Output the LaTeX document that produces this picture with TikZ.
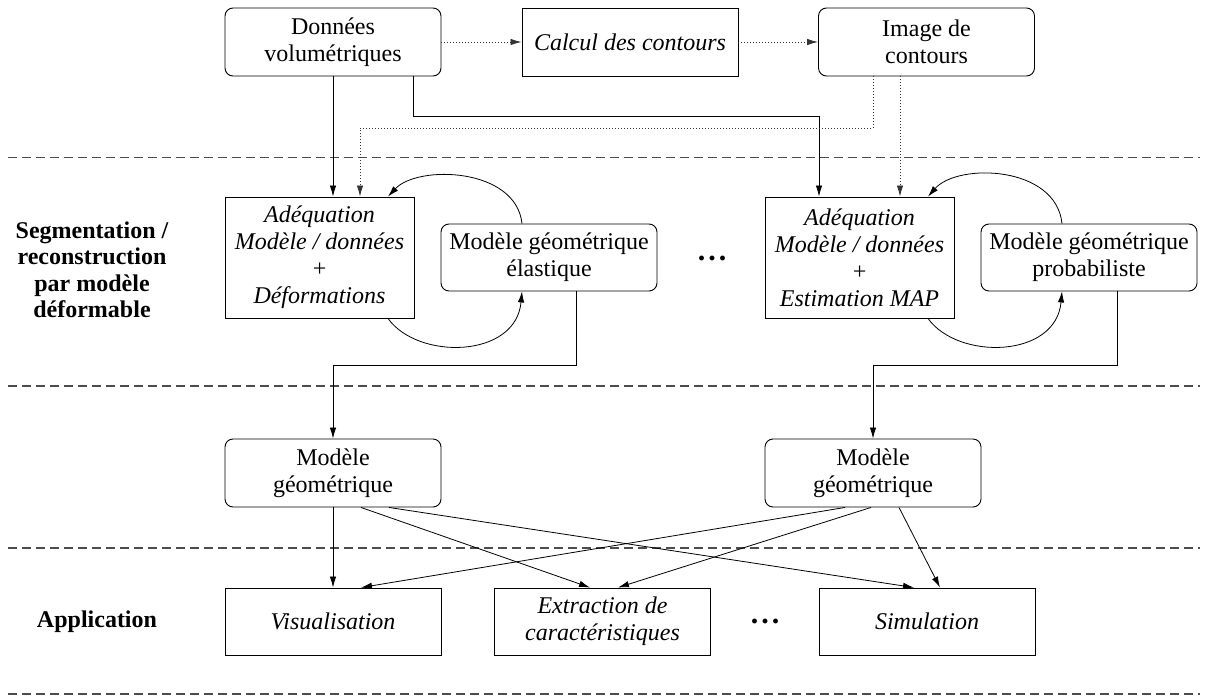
\documentclass[tikz,border=0pt]{standalone}
\usepackage{fontspec}
\setmainfont{Liberation Serif}
\usetikzlibrary{arrows.meta,calc}
\begin{document}
\begin{tikzpicture}[x=1pt,y=-1pt,
  every node/.style={font=\fontsize{24}{27}\selectfont, inner sep=0pt},
  rbox/.style={draw, rounded corners=8pt, minimum width=216pt, minimum height=68pt, align=center, line width=0.9pt},
  sbox/.style={draw, minimum width=216pt, minimum height=68pt, align=center, line width=0.9pt},
  abox/.style={draw, minimum width=189pt, minimum height=121pt, align=center, line width=0.9pt},
  ital/.style={font=\fontsize{24}{27}\selectfont\itshape},
  conn/.style={line width=0.8pt, -{Latex[length=11pt,width=6.5pt]}},
  dconn/.style={conn, draw=black!80, dash pattern=on 0.8pt off 2.2pt},
  sep/.style={line width=1.3pt, draw=black!70, dash pattern=on 9pt off 5pt},
  lab/.style={font=\fontsize{24}{26.5}\selectfont\bfseries, align=center},
  dotsn/.style={font=\fontsize{30}{30}\selectfont\bfseries}
]
\useasboundingbox (0,0) rectangle (1205,698);

% separators
\draw[sep] (8,157.5) -- (1200,157.5);
\draw[sep] (8,386) -- (1200,386);
\draw[sep] (8,548) -- (1200,548);
\draw[sep] (8,694) -- (1200,694);

% top row
\node[rbox] (D) at (333,42) {Données\\volumétriques};
\node[sbox, ital] (C) at (630,42) {Calcul des contours};
\node[rbox] (I) at (926.5,42) {Image de\\contours};

% middle row
\node[abox, ital] (A1) at (319.5,257.5) {Adéquation\\Modèle / données\\+\\Déformations};
\node[rbox, minimum height=67pt] (M1) at (549,257.5) {Modèle géométrique\\élastique};
\node[abox, ital] (A2) at (859.5,257.5) {Adéquation\\Modèle / données\\+\\Estimation MAP};
\node[rbox, minimum height=67pt] (M2) at (1089,257.5) {Modèle géométrique\\probabiliste};
\node[dotsn] (dots1) at (712,258) {.\hspace{3pt}.\hspace{3pt}.};

% model row
\node[rbox] (MG1) at (333,473) {Modèle\\géométrique};
\node[rbox] (MG2) at (873,473) {Modèle\\géométrique};

% application row
\node[sbox, minimum height=67pt, ital] (V) at (333,621.5) {Visualisation};
\node[sbox, minimum height=67pt, ital] (E) at (602.5,621.5) {Extraction de\\caractéristiques};
\node[sbox, minimum height=67pt, ital] (S) at (927,621.5) {Simulation};
\node[dotsn] (dots2) at (765,621) {.\hspace{3pt}.\hspace{3pt}.};

% labels
\node[lab] (L1) at (92,270) {Segmentation /\\reconstruction\\par modèle\\déformable};
\node[lab] (L2) at (97,622) {Application};

% top connectors
\draw[dconn] (D) -- (C);
\draw[dconn] (C) -- (I);
\draw[conn] (D.south) -- (D.south |- A1.north);
\draw[conn] ([xshift=80pt]D.south) -- ++(0,40) -| ([xshift=-40.5pt]A2.north);
\draw[dconn] ([xshift=-53.5pt]I.south) -- ++(0,52) -| ([xshift=40.5pt]A1.north);
\draw[dconn] ([xshift=-26.5pt]I.south) -- ([xshift=-26.5pt]I.south |- A2.north);

% loops
\draw[conn] ([xshift=-27pt]M1.north) .. controls +(-6,-56) and +(30,-32) .. ([xshift=68.5pt]A1.north);
\draw[conn] ([xshift=68.5pt]A1.south) .. controls +(30,42) and +(-6,67) .. ([xshift=-27pt]M1.south);
\draw[conn] ([xshift=-27pt]M2.north) .. controls +(-6,-58) and +(30,-34) .. ([xshift=68.5pt]A2.north);
\draw[conn] ([xshift=68.5pt]A2.south) .. controls +(30,42) and +(-6,67) .. ([xshift=-27pt]M2.south);

% to models
\draw[conn] ([xshift=27pt]M1.south) -- ++(0,74) -| (MG1.north);
\draw[conn] ([xshift=28pt]M2.south) -- ++(0,74) -| (MG2.north);

% to applications
\draw[conn] (MG1.south) -- (V.north);
\draw[conn] ([xshift=28pt]MG1.south) -- ([xshift=-12.5pt]E.north);
\draw[conn] ([xshift=56pt]MG1.south) -- ([xshift=-13pt]S.north);
\draw[conn] ([xshift=-28pt]MG2.south) -- ([xshift=28pt]V.north);
\draw[conn] ([xshift=-2pt]MG2.south) -- ([xshift=15.5pt]E.north);
\draw[conn] ([xshift=26pt]MG2.south) -- ([xshift=13pt]S.north);
\end{tikzpicture}
\end{document}
